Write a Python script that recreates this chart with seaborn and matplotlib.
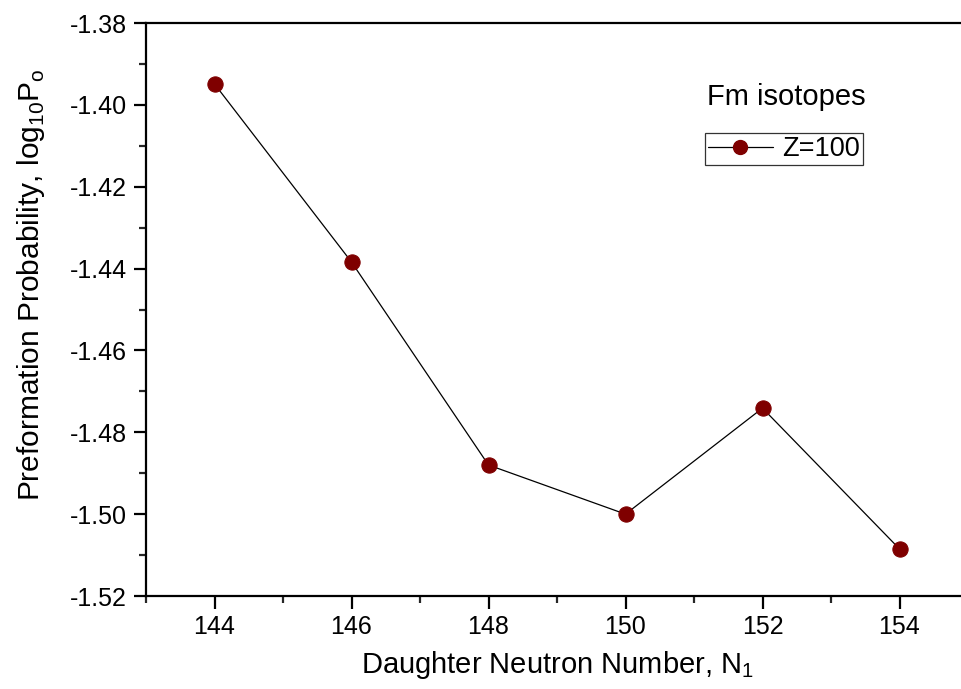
import matplotlib
matplotlib.use("Agg")
import matplotlib.pyplot as plt
import seaborn as sns
import pandas as pd
from matplotlib.ticker import MultipleLocator, FormatStrFormatter

neutron_number = [144, 146, 148, 150, 152, 154]
log_p0 = [-1.3949, -1.4384, -1.4880, -1.5000, -1.4741, -1.5085]
series_label = "Z=100"
legend_title = "Fm isotopes"

df = pd.DataFrame({"N": neutron_number, "logP": log_p0, "series": series_label})

sns.set_style("ticks")
plt.rcParams["font.family"] = ["Liberation Sans", "DejaVu Sans"]
plt.rcParams["mathtext.fontset"] = "custom"
plt.rcParams["mathtext.rm"] = "Liberation Sans"
plt.rcParams["text.color"] = "black"
plt.rcParams["axes.labelcolor"] = "black"

W, H = 961, 689
fig = plt.figure(figsize=(W / 100, H / 100), dpi=100)
ax = fig.add_axes([146 / W, (H - 596) / H, (968 - 146) / W, (596 - 23) / H])

red = "#7f0000"
sns.lineplot(data=df, x="N", y="logP", hue="series", palette=["black"],
             linewidth=0.9, marker="o", markersize=11, markerfacecolor=red,
             markeredgecolor=red, ax=ax, legend=False)

ax.plot([], [], color="black", linewidth=0.9, marker="o", markersize=10,
        markerfacecolor=red, markeredgecolor=red, label=series_label)

ax.set_xlim(143, 155)
ax.set_ylim(-1.52, -1.38)
ax.xaxis.set_major_locator(MultipleLocator(2))
ax.xaxis.set_minor_locator(MultipleLocator(1))
ax.yaxis.set_major_locator(MultipleLocator(0.02))
ax.yaxis.set_minor_locator(MultipleLocator(0.01))
ax.yaxis.set_major_formatter(FormatStrFormatter("%.2f"))

for side in ["left", "bottom", "top"]:
    ax.spines[side].set_linewidth(1.6)
    ax.spines[side].set_color("black")
ax.spines["right"].set_visible(False)

ax.tick_params(which="major", direction="out", length=9, width=1.6, labelsize=18,
               colors="black", pad=5)
ax.tick_params(which="minor", direction="out", length=5, width=1.6)
ax.tick_params(top=False, right=False)

ax.set_xlabel(r"Daughter Neutron Number, N$_\mathregular{1}$", fontsize=21, labelpad=7,
              color="black")
ax.set_ylabel(r"Preformation Probability, log$_\mathregular{10}$P$_\mathregular{o}$",
              fontsize=21.5, color="black")
ax.yaxis.set_label_coords((47 - 146) / 822, (596 - 285) / 573)

fig.text(786 / W, 1 - 97 / H, legend_title, fontsize=21, ha="center", va="center",
         color="black")

leg = ax.legend(loc="center", bbox_to_anchor=(784 / W, 1 - 149 / H),
                bbox_transform=fig.transFigure, fontsize=19.5, frameon=True,
                fancybox=False, edgecolor="black", handlelength=2.4,
                borderpad=0.1, handletextpad=0.35, borderaxespad=0)
leg.get_frame().set_linewidth(0.9)
for t in leg.get_texts():
    t.set_color("black")

fig.savefig("out.png", dpi=100)
